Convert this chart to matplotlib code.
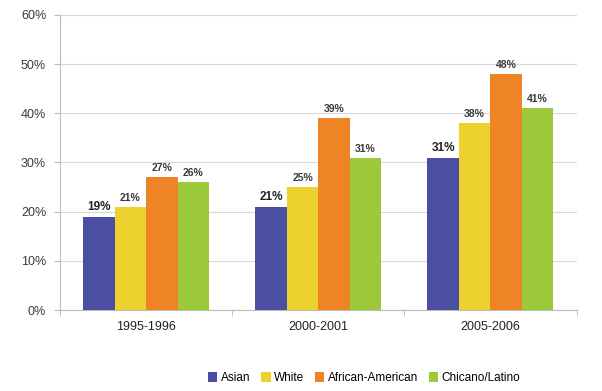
import matplotlib
matplotlib.use("Agg")
import matplotlib.pyplot as plt
import numpy as np
from matplotlib.ticker import FixedLocator

plt.rcParams['font.family'] = ['Liberation Sans', 'DejaVu Sans']

periods = ["1995-1996", "2000-2001", "2005-2006"]
series_names = ["Asian", "White", "African-American", "Chicano/Latino"]
asian = [19, 21, 31]
white = [21, 25, 38]
african_american = [27, 39, 48]
chicano_latino = [26, 31, 41]
colors = ["#4a4fa3", "#edd12e", "#ef8426", "#9cc83b"]
y_ticks = [0, 10, 20, 30, 40, 50, 60]

values = [asian, white, african_american, chicano_latino]

fig = plt.figure(figsize=(6.02, 3.91), dpi=100)
ax = fig.add_axes([0.0997, 0.207, 0.858, 0.755])

x = np.arange(len(periods))
bw = 0.183
for i, (name, vals, c) in enumerate(zip(series_names, values, colors)):
    pos = x + (i - 1.5) * bw
    ax.bar(pos, vals, width=bw, color=c, label=name, zorder=3)
    for p, v in zip(pos, vals):
        big = (i == 0)
        ax.text(p, v + 0.8, f"{v}%", ha="center", va="bottom",
                fontsize=8.5 if big else 7.5, fontweight="bold",
                color="#222222" if big else "#3a3a3a", zorder=4)

ax.set_xlim(-0.5, len(periods) - 0.5)
ax.set_ylim(0, 60)
ax.set_yticks(y_ticks)
ax.set_yticklabels([f"{t}%" for t in y_ticks], fontsize=9, color="#3a3a3a")
ax.set_xticks(x)
ax.set_xticklabels(periods, fontsize=9, color="#222222")
ax.tick_params(axis="x", length=0, pad=8)
ax.xaxis.set_minor_locator(FixedLocator([-0.5, 0.5, 1.5, 2.5]))
ax.tick_params(axis="x", which="minor", length=4, color="#bbbbbb")
ax.tick_params(axis="y", length=4, color="#bbbbbb", pad=6)
ax.grid(axis="y", color="#d9d9d9", linewidth=0.8, zorder=0)
for s in ["top", "right"]:
    ax.spines[s].set_visible(False)
ax.spines["left"].set_color("#bbbbbb")
ax.spines["bottom"].set_color("#bbbbbb")

handles, labels = ax.get_legend_handles_labels()
fig.legend(handles, labels, loc="center", bbox_to_anchor=(0.605, 0.033), ncol=4,
           frameon=False, fontsize=8.5, handlelength=0.8, handleheight=0.8,
           handletextpad=0.3, columnspacing=0.9)

fig.savefig("out.png", dpi=100, facecolor="white")
